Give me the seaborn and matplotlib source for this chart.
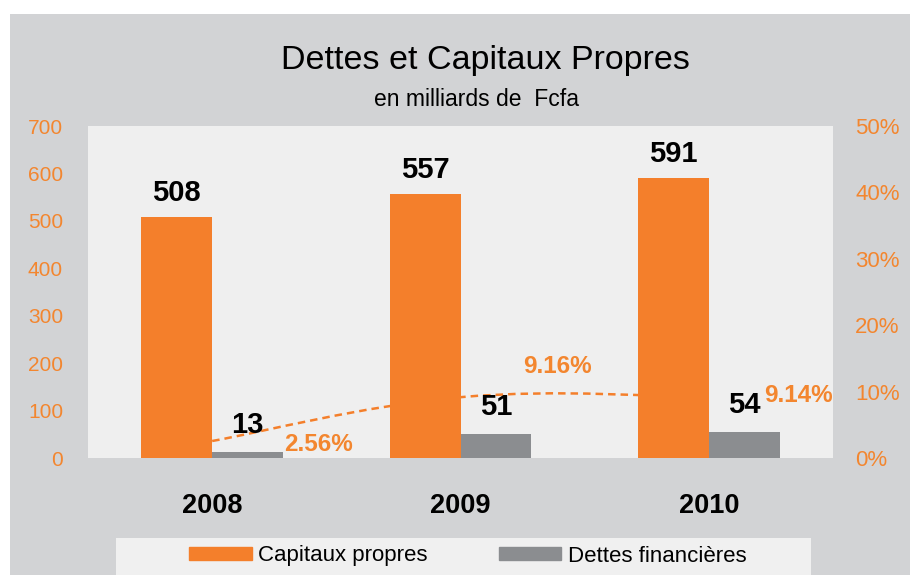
import pandas as pd
import matplotlib.pyplot as plt
import matplotlib.patches as mpatches
from matplotlib.path import Path
import seaborn as sns

# ==========================================
# Data
# ==========================================

years = ["2008", "2009", "2010"]
capitaux = [508, 557, 591]
dettes = [13, 51, 54]
ratio = [2.56, 9.16, 9.14]

series = ["Capitaux propres", "Dettes financières"]

data = pd.DataFrame({
    "Year": years * 2,
    "Value": capitaux + dettes,
    "Serie": [series[0]] * 3 + [series[1]] * 3,
})

orange = "#f47f2b"
grey = "#8b8d90"
tick_orange = "#f3862f"
font = ["Liberation Sans", "DejaVu Sans"]

sns.set_style("white")
plt.rcParams["font.family"] = font
plt.rcParams["text.color"] = "black"
plt.rcParams["xtick.color"] = "black"

# ==========================================
# Figure
# ==========================================

fig = plt.figure(figsize=(9.1, 5.75), dpi=100)
fig.patch.set_facecolor("white")
fig.patches.append(mpatches.Rectangle((10 / 910, 0), 1, 1 - 14 / 575,
                                      transform=fig.transFigure,
                                      facecolor="#d2d3d5", edgecolor="none", zorder=-10))

ax = fig.add_axes([88 / 910, 117 / 575, 745 / 910, 332 / 575])

sns.barplot(
    data=data, x="Year", y="Value", hue="Serie",
    palette=[orange, grey], width=0.57, saturation=1, linewidth=0,
    order=years, hue_order=series, ax=ax, legend=False, zorder=3,
)

ax.set_xlim(-0.5, 2.5)
ax.set_ylim(0, 700)
ax.set_yticks(range(0, 701, 100))
ax.set_xlabel("")
ax.set_ylabel("")
for s in ax.spines.values():
    s.set_visible(False)
ax.tick_params(axis="y", length=0, labelsize=15, labelcolor=tick_orange, pad=18)
ax.tick_params(axis="x", length=0, labelsize=19.5, labelcolor="black", pad=25)
for lab in ax.get_xticklabels():
    lab.set_fontweight("bold")

# value labels
for i, v in enumerate(capitaux):
    ax.annotate(str(v), (i - 0.1425, v), xytext=(0, 16), textcoords="offset pixels",
                ha="center", va="baseline", fontsize=21, fontweight="bold", color="black")
for i, v in enumerate(dettes):
    ax.annotate(str(v), (i + 0.1425, v), xytext=(0, 19), textcoords="offset pixels",
                ha="center", va="baseline", fontsize=21, fontweight="bold", color="black")

# ==========================================
# Ratio on secondary axis (smoothed dashed line)
# ==========================================

ax2 = ax.twinx()
ax2.set_zorder(ax.get_zorder() - 1)
ax.patch.set_visible(False)
ax2.patch.set_visible(True)
ax2.patch.set_facecolor("#efefef")
ax2.set_xlim(-0.5, 2.5)
ax2.set_ylim(0, 50)
ax2.set_yticks(range(0, 51, 10))
ax2.set_yticklabels([f"{t}%" for t in range(0, 51, 10)])
ax2.tick_params(axis="y", length=0, labelsize=16, labelcolor=tick_orange, pad=16)
for s in ax2.spines.values():
    s.set_visible(False)

pts = list(zip(range(len(ratio)), ratio))
ext = [pts[0]] + pts + [pts[-1]]
verts, codes = [pts[0]], [Path.MOVETO]
for i in range(len(pts) - 1):
    p0, p1, p2, p3 = ext[i], ext[i + 1], ext[i + 2], ext[i + 3]
    c1 = (p1[0] + (p2[0] - p0[0]) / 5, p1[1] + (p2[1] - p0[1]) / 5)
    c2 = (p2[0] - (p3[0] - p1[0]) / 5, p2[1] - (p3[1] - p1[1]) / 5)
    verts += [c1, c2, p2]
    codes += [Path.CURVE4] * 3
ax2.add_patch(mpatches.PathPatch(Path(verts, codes), fill=False, edgecolor=orange,
                                 linestyle=(0, (3, 2)), linewidth=1.8))

label_offsets = [(106, -10), (97, 24), (90, -5)]
for i, (r, off) in enumerate(zip(ratio, label_offsets)):
    ax2.annotate(f"{r:.2f}%", (i, r), xytext=off, textcoords="offset pixels",
                 ha="center", va="baseline", fontsize=17.5, fontweight="bold",
                 color=tick_orange)

# ==========================================
# Titles and legend
# ==========================================

fig.text(485 / 910, 1 - 60 / 575, "Dettes et Capitaux Propres", ha="center", va="center",
         fontsize=24.5, color="black")
fig.text(476 / 910, 1 - 106 / 575, "en milliards de  Fcfa", ha="center", va="baseline",
         fontsize=16.5, color="black")

fig.patches.append(mpatches.Rectangle((116 / 910, 0), 695 / 910, 37 / 575,
                                      transform=fig.transFigure,
                                      facecolor="#f0f0f0", edgecolor="none", zorder=-5))
handles = [mpatches.Patch(color=orange, label=series[0]),
           mpatches.Patch(color=grey, label=series[1])]
leg = fig.legend(handles=handles, loc="center", bbox_to_anchor=(468 / 910, 1 - 556 / 575),
                 ncol=2, frameon=False, fontsize=16, handlelength=2.8, handleheight=0.55,
                 columnspacing=3.2, handletextpad=0.3)
for t in leg.get_texts():
    t.set_color("black")

fig.savefig("out.png", dpi=100)
